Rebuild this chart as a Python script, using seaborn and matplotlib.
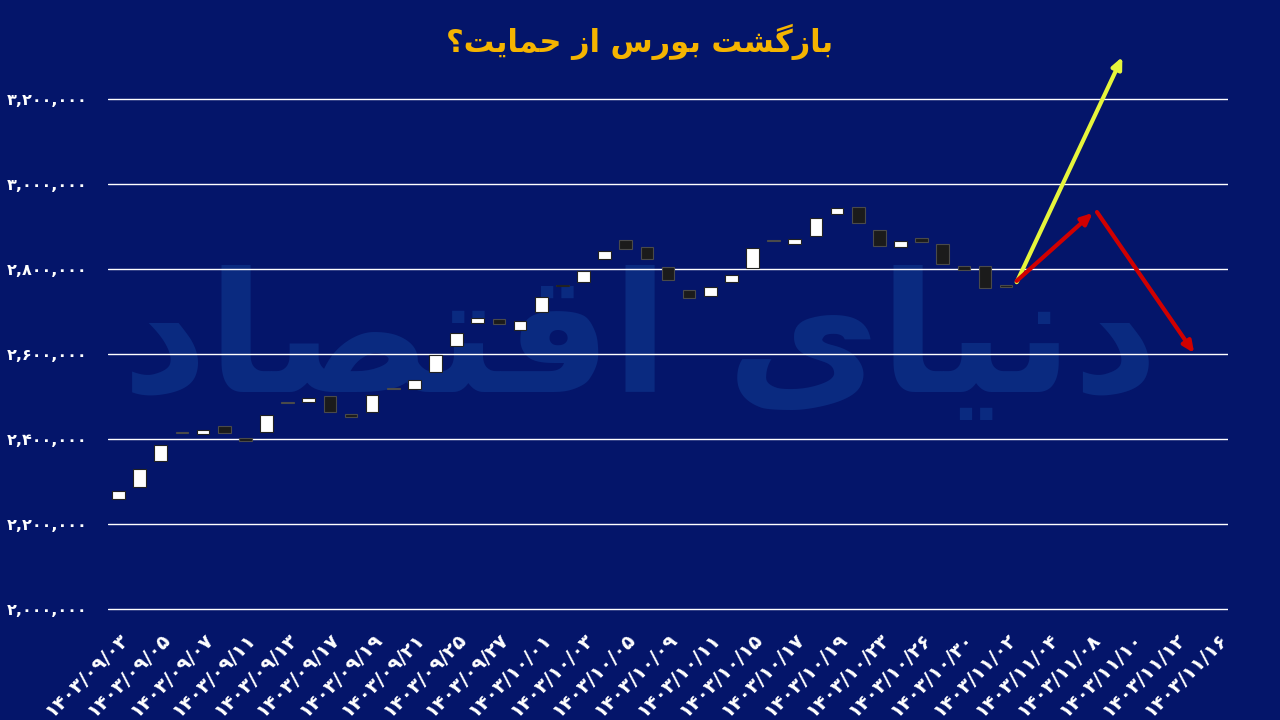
import numpy as np
import pandas as pd
import matplotlib
matplotlib.use("Agg")
import matplotlib.pyplot as plt
import seaborn as sns

# ---- data ----
dates = [
    "1403/09/03", "1403/09/04", "1403/09/05", "1403/09/06", "1403/09/07",
    "1403/09/10", "1403/09/11", "1403/09/12", "1403/09/13", "1403/09/14",
    "1403/09/17", "1403/09/18", "1403/09/19", "1403/09/20", "1403/09/21",
    "1403/09/24", "1403/09/25", "1403/09/26", "1403/09/27", "1403/09/28",
    "1403/10/01", "1403/10/02", "1403/10/03", "1403/10/04", "1403/10/05",
    "1403/10/08", "1403/10/09", "1403/10/10", "1403/10/11", "1403/10/12",
    "1403/10/15", "1403/10/16", "1403/10/17", "1403/10/18", "1403/10/19",
    "1403/10/22", "1403/10/23", "1403/10/24", "1403/10/26", "1403/10/29",
    "1403/10/30", "1403/11/01", "1403/11/02", "1403/11/03", "1403/11/04",
    "1403/11/07", "1403/11/08", "1403/11/09", "1403/11/10", "1403/11/11",
    "1403/11/12", "1403/11/15", "1403/11/16",
]

opens = [
    2258000, 2287000, 2348000, 2416000, 2412000, 2430000, 2403000, 2416000,
    2486000, 2487000, 2500000, 2459000, 2463000, 2519000, 2518000, 2558000,
    2620000, 2672000, 2682000, 2656000, 2699000, 2759000, 2769000, 2824000,
    2868000, 2851000, 2805000, 2750000, 2736000, 2769000, 2802000, 2867000,
    2860000, 2877000, 2929000, 2945000, 2892000, 2851000, 2874000, 2860000,
    2807000, 2807000, 2762000,
]
closes = [
    2278000, 2329000, 2387000, 2414000, 2421000, 2413000, 2396000, 2457000,
    2485000, 2497000, 2464000, 2451000, 2504000, 2518000, 2539000, 2598000,
    2650000, 2684000, 2671000, 2678000, 2735000, 2761000, 2796000, 2843000,
    2846000, 2824000, 2775000, 2732000, 2757000, 2785000, 2849000, 2866000,
    2870000, 2919000, 2943000, 2909000, 2855000, 2865000, 2864000, 2812000,
    2798000, 2756000, 2758000,
]

y_ticks = [2000000, 2200000, 2400000, 2600000, 2800000, 3000000, 3200000]

# scenario arrows: (x0, y0, x1, y1) in category / index units
yellow_arrow = (42.5, 2769000, 47.5, 3299000)
red_up = (42.5, 2772000, 46.1, 2932000)
red_down = (46.3, 2934000, 50.9, 2602000)

title = "بازگشت بورس از حمایت؟"
watermark = "دنیای اقتصاد"

# ---- helpers for persian text ----
FA_DIGITS = str.maketrans("0123456789", "۰۱۲۳۴۵۶۷۸۹")

# isolated, final, initial, medial
FORMS = {
    "ا": ("\uFE8D", "\uFE8E", None, None),
    "ب": ("\uFE8F", "\uFE90", "\uFE91", "\uFE92"),
    "ت": ("\uFE95", "\uFE96", "\uFE97", "\uFE98"),
    "ح": ("\uFEA1", "\uFEA2", "\uFEA3", "\uFEA4"),
    "د": ("\uFEA9", "\uFEAA", None, None),
    "ر": ("\uFEAD", "\uFEAE", None, None),
    "ز": ("\uFEAF", "\uFEB0", None, None),
    "س": ("\uFEB1", "\uFEB2", "\uFEB3", "\uFEB4"),
    "ش": ("\uFEB5", "\uFEB6", "\uFEB7", "\uFEB8"),
    "ص": ("\uFEB9", "\uFEBA", "\uFEBB", "\uFEBC"),
    "ق": ("\uFED5", "\uFED6", "\uFED7", "\uFED8"),
    "م": ("\uFEE1", "\uFEE2", "\uFEE3", "\uFEE4"),
    "ن": ("\uFEE5", "\uFEE6", "\uFEE7", "\uFEE8"),
    "و": ("\uFEED", "\uFEEE", None, None),
    "ی": ("\uFBFC", "\uFBFD", "\uFBFE", "\uFBFF"),
    "گ": ("\uFB92", "\uFB93", "\uFB94", "\uFB95"),
}


def shape_fa(text):
    """Joins persian letters and puts them in visual (left to right) order."""
    out = []
    for i, ch in enumerate(text):
        if ch not in FORMS:
            out.append(ch)
            continue
        prev = text[i - 1] if i > 0 else ""
        nxt = text[i + 1] if i + 1 < len(text) else ""
        join_prev = prev in FORMS and FORMS[prev][2] is not None
        join_next = nxt in FORMS and FORMS[ch][2] is not None
        iso, fin, ini, med = FORMS[ch]
        if join_prev and join_next:
            out.append(med)
        elif join_prev:
            out.append(fin)
        elif join_next:
            out.append(ini)
        else:
            out.append(iso)
    return "".join(reversed(out))


# ---- style ----
bg = "#04156a"
sns.set_theme(style="white", rc={
    "figure.facecolor": bg,
    "axes.facecolor": bg,
    "axes.edgecolor": bg,
    "text.color": "white",
    "xtick.color": "white",
    "ytick.color": "white",
})
plt.rcParams["font.family"] = ["DejaVu Sans"]

fig = plt.figure(figsize=(12.8, 7.2), dpi=100)
ax = fig.add_axes([108 / 1280, 1 - 613.25 / 720, 1120 / 1280, (613.25 - 94.75) / 720])
ax.patch.set_alpha(0)
ax.set_zorder(2)

# faint logo in the background (behind the axes)
fig.text(0.50, 0.52, shape_fa(watermark), fontsize=120, fontweight="bold",
         color="#0a2a80", ha="center", va="center", zorder=0)

df = pd.DataFrame({"open": opens, "close": closes})
df["x"] = np.arange(len(df))
df["up"] = df["close"] >= df["open"]
df["low"] = df[["open", "close"]].min(axis=1)
df["body"] = (df["close"] - df["open"]).abs().clip(lower=3000)

for up, grp in df.groupby("up"):
    ax.bar(grp["x"], grp["body"], bottom=grp["low"], width=0.6,
           color="white" if up else "#1b1b1b",
           edgecolor="#222222" if up else "#4a4a4a",
           linewidth=0.8, zorder=3)

# scenario arrows
for (x0, y0, x1, y1), col in [(yellow_arrow, "#e6f53c"),
                              (red_up, "#d00000"),
                              (red_down, "#d00000")]:
    ax.annotate("", xy=(x1, y1), xytext=(x0, y0), annotation_clip=False,
                arrowprops=dict(arrowstyle="-|>,head_length=0.55,head_width=0.25",
                                color=col, lw=3, shrinkA=0, shrinkB=0),
                zorder=5)

ax.set_xlim(-0.5, len(dates) - 0.5)
ax.set_ylim(1990000, 3210000)
ax.set_yticks(y_ticks)
ax.set_yticklabels([f"{v:,}".translate(FA_DIGITS) for v in y_ticks],
                   fontsize=11.5, fontweight="bold")
ax.yaxis.grid(True, color="white", linewidth=1, zorder=1)
ax.set_axisbelow(True)

ticks = list(range(0, len(dates), 2))
ax.set_xticks(ticks)
ax.set_xticklabels([dates[i].translate(FA_DIGITS) for i in ticks],
                   rotation=45, ha="right", rotation_mode="anchor",
                   fontsize=14, fontweight="bold")
ax.tick_params(axis="x", length=0, pad=12)
ax.tick_params(axis="y", length=0, pad=15)
sns.despine(ax=ax, left=True, bottom=True)

fig.text(0.5, 1 - 42 / 720, shape_fa(title), fontsize=22, fontweight="bold",
         color="#f5b400", ha="center", va="center")

fig.savefig("out.png", dpi=100, facecolor=bg)
